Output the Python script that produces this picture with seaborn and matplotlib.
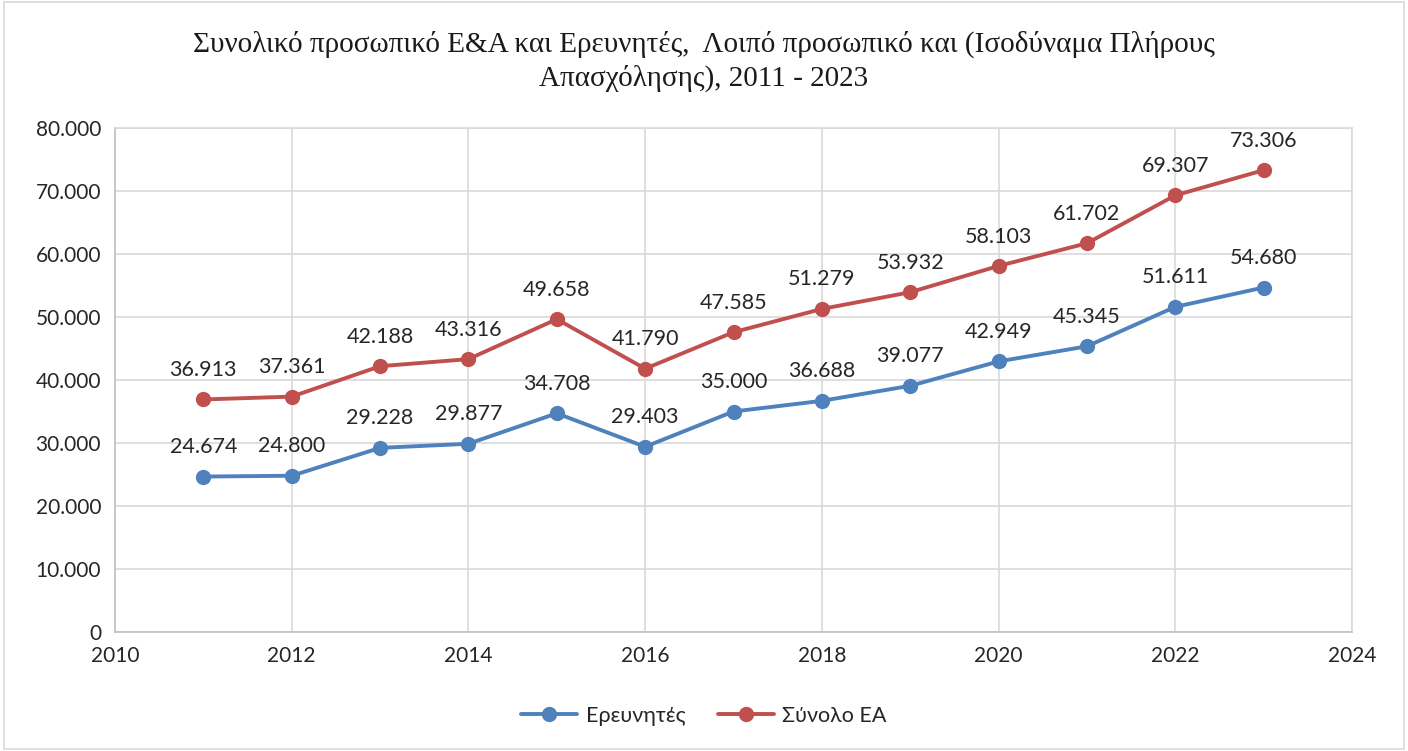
import matplotlib
matplotlib.use("Agg")
import matplotlib.pyplot as plt
import seaborn as sns
import pandas as pd
from matplotlib.ticker import FuncFormatter, MultipleLocator
from matplotlib.patches import Rectangle
from matplotlib.lines import Line2D

years = [2011, 2012, 2013, 2014, 2015, 2016, 2017, 2018, 2019, 2020, 2021, 2022, 2023]
researchers = [24674, 24800, 29228, 29877, 34708, 29403, 35000, 36688, 39077, 42949, 45345, 51611, 54680]
total_rd = [36913, 37361, 42188, 43316, 49658, 41790, 47585, 51279, 53932, 58103, 61702, 69307, 73306]
series_names = ["Ερευνητές", "Σύνολο ΕΑ"]
colors = ["#4F81BD", "#C0504D"]
title = "Συνολικό προσωπικό Ε&Α και Ερευνητές,  Λοιπό προσωπικό και (Ισοδύναμα Πλήρους\nΑπασχόλησης), 2011 - 2023"

df = pd.DataFrame({
    "year": years * 2,
    "value": researchers + total_rd,
    "series": [series_names[0]] * len(years) + [series_names[1]] * len(years),
})

sns.set_theme(style="white")
plt.rcParams["font.family"] = ["Lato", "DejaVu Sans"]

fig = plt.figure(figsize=(14.08, 7.51), dpi=100)
ax = fig.add_axes([115 / 1408, 1 - 632 / 751, (1352 - 115) / 1408, (632 - 128) / 751])

sns.lineplot(data=df, x="year", y="value", hue="series", palette=colors,
             marker="o", markersize=11, linewidth=2.8, markeredgewidth=0,
             ax=ax, legend=False)

def fmt(v, pos=None):
    v = int(round(v))
    return f"{v:,}".replace(",", ".")

for vals in (researchers, total_rd):
    for x, y in zip(years, vals):
        ax.annotate(fmt(y), (x, y), xytext=(0, 14), textcoords="offset points",
                    ha="center", va="bottom", fontsize=15.5, color="#262626")

ax.set_xlim(2010, 2024)
ax.set_ylim(0, 80000)
ax.xaxis.set_major_locator(MultipleLocator(2))
ax.yaxis.set_major_locator(MultipleLocator(10000))
ax.yaxis.set_major_formatter(FuncFormatter(fmt))
ax.xaxis.set_major_formatter(FuncFormatter(lambda v, p: str(int(v))))
ax.grid(True, color="#d9d9d9", linewidth=1.2)
ax.set_axisbelow(True)
for s in ax.spines.values():
    s.set_color("#d9d9d9")
    s.set_linewidth(1.2)
ax.spines["left"].set_color("#bfbfbf")
ax.spines["bottom"].set_color("#bfbfbf")
ax.tick_params(axis="both", length=0, labelsize=15, colors="#262626", pad=10)
ax.set_xlabel("")
ax.set_ylabel("")

fig.text(0.5, 1 - 31 / 751, title, ha="center", va="top", fontsize=21,
         family=["Liberation Serif", "DejaVu Serif"], linespacing=1.3, color="#1a1a1a")

handles = [Line2D([], [], color=c, marker="o", markersize=11, linewidth=2.8, markeredgewidth=0)
           for c in colors]
fig.legend(handles, series_names, loc="center", bbox_to_anchor=(0.5, 1 - 716 / 751),
           ncol=2, frameon=False, fontsize=15.5, handlelength=2.6, handletextpad=0.4,
           columnspacing=1.5, labelcolor="#262626")

fig.patches.append(Rectangle((0.003, 0.003), 0.994, 0.994, transform=fig.transFigure,
                             fill=False, edgecolor="#d9d9d9", linewidth=1.2))

fig.savefig("out.png", dpi=100)
